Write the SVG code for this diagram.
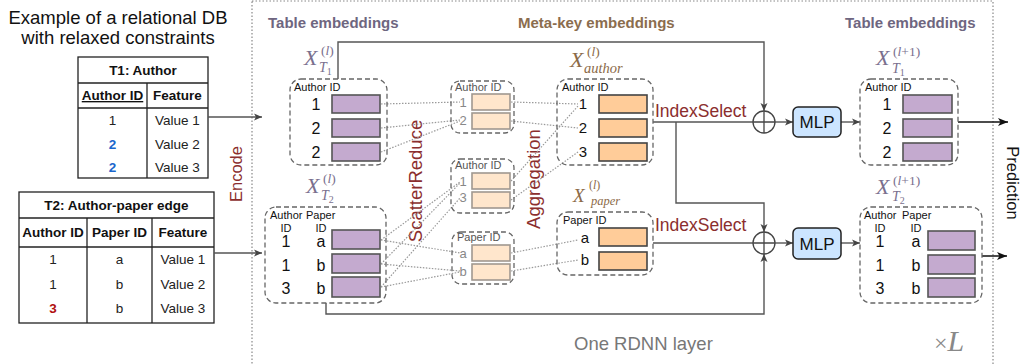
<svg xmlns="http://www.w3.org/2000/svg" width="1024" height="364" viewBox="0 0 1024 364">
  <defs>
    <marker id="ah" markerUnits="userSpaceOnUse" markerWidth="10" markerHeight="10" refX="9" refY="5" orient="auto">
      <path d="M1,1.5 L9,5 L1,8.5 L3,5 Z" fill="#444"/>
    </marker>
    <marker id="ahk" markerUnits="userSpaceOnUse" markerWidth="12" markerHeight="12" refX="11" refY="6" orient="auto">
      <path d="M1,2 L11,6 L1,10 L3.5,6 Z" fill="#111"/>
    </marker>
  </defs>
  <style>
    .sans { font-family: "Liberation Sans", Arial, sans-serif; }
    .math { font-family: "Liberation Serif", "Times New Roman", serif; font-style: italic; }
    .tbl { fill: #fff; stroke: #222; stroke-width: 1.3; }
    .tl { stroke: #222; stroke-width: 1.3; }
    .th { font-family: "Liberation Sans", Arial, sans-serif; font-size: 13.5px; font-weight: bold; fill: #111; text-anchor: middle; }
    .td { font-family: "Liberation Sans", Arial, sans-serif; font-size: 13.5px; fill: #222; text-anchor: middle; }
    .grp { fill: none; stroke: #666; stroke-width: 1.3; stroke-dasharray: 5 3; }
    .emb { fill: #C4AACF; stroke: #555; stroke-width: 1.6; }
    .key { fill: #FFCC99; stroke: #444; stroke-width: 1.6; }
    .agg { fill: #FFE6CC; stroke: #A09890; stroke-width: 1.6; }
    .cap { font-family: "Liberation Sans", Arial, sans-serif; font-size: 11px; fill: #111; }
    .capg { font-family: "Liberation Sans", Arial, sans-serif; font-size: 11px; fill: #555; }
    .num { font-family: "Liberation Sans", Arial, sans-serif; font-size: 16px; fill: #111; text-anchor: middle; }
    .numk { font-family: "Liberation Sans", Arial, sans-serif; font-size: 15px; fill: #111; text-anchor: middle; }
    .numg { font-family: "Liberation Sans", Arial, sans-serif; font-size: 13px; fill: #888; text-anchor: middle; }
    .op { font-family: "Liberation Sans", Arial, sans-serif; fill: #8B2E2E; }
    .sec { font-family: "Liberation Sans", Arial, sans-serif; font-size: 15px; font-weight: bold; }
    .wire { fill: none; stroke: #555; stroke-width: 1.4; }
    .dot { fill: none; stroke: #999; stroke-width: 1.2; stroke-dasharray: 1.5 1.5; }
    .mlp { fill: #CCE5FF; stroke: #222; stroke-width: 1.5; }
    .sum { fill: #fff; stroke: #444; stroke-width: 1.3; }
    .xt { fill: #7A6F8E; }
    .xk { fill: #8B6A48; }
  </style>

  <!-- layer frame -->
  <rect x="252" y="1" width="741" height="380" fill="none" stroke="#888" stroke-width="1.2" stroke-dasharray="1.5 2"/>

  <!-- database example -->
  <g id="db-title" class="sans" font-size="18.5" fill="#111" text-anchor="middle">
    <text x="118" y="24">Example of a relational DB</text>
    <text x="118" y="44">with relaxed constraints</text>
  </g>

  <g id="table-t1">
    <rect class="tbl" x="78" y="57" width="130" height="121"/>
    <line class="tl" x1="78" y1="83" x2="208" y2="83"/>
    <line class="tl" x1="78" y1="108" x2="208" y2="108"/>
    <line class="tl" x1="147" y1="83" x2="147" y2="178"/>
    <text class="th" x="143" y="75">T1: Author</text>
    <text class="th" x="112.5" y="100" text-decoration="underline">Author ID</text>
    <text class="th" x="177.5" y="100">Feature</text>
    <text class="td" x="112.5" y="125">1</text>
    <text class="th" x="112.5" y="149" style="fill:#1A66CC">2</text>
    <text class="th" x="112.5" y="172" style="fill:#1A66CC">2</text>
    <text class="td" x="177.5" y="125">Value 1</text>
    <text class="td" x="177.5" y="149">Value 2</text>
    <text class="td" x="177.5" y="172">Value 3</text>
  </g>

  <g id="table-t2">
    <rect class="tbl" x="19" y="192" width="195" height="131"/>
    <line class="tl" x1="19" y1="218" x2="214" y2="218"/>
    <line class="tl" x1="19" y1="247" x2="214" y2="247"/>
    <line class="tl" x1="87" y1="218" x2="87" y2="323"/>
    <line class="tl" x1="152" y1="218" x2="152" y2="323"/>
    <text class="th" x="116.5" y="210">T2: Author-paper edge</text>
    <text class="th" x="53" y="237">Author ID</text>
    <text class="th" x="119.5" y="237">Paper ID</text>
    <text class="th" x="183" y="237">Feature</text>
    <text class="td" x="53" y="264">1</text>
    <text class="td" x="53" y="289">1</text>
    <text class="th" x="53" y="313" style="fill:#B01010">3</text>
    <text class="td" x="119.5" y="264">a</text>
    <text class="td" x="119.5" y="289">b</text>
    <text class="td" x="119.5" y="313">b</text>
    <text class="td" x="183" y="264">Value 1</text>
    <text class="td" x="183" y="289">Value 2</text>
    <text class="td" x="183" y="313">Value 3</text>
  </g>

  <!-- section headings -->
  <text class="sec" x="268" y="28" fill="#6E6680">Table embeddings</text>
  <text class="sec" x="518" y="28" fill="#8B6D4E">Meta-key embeddings</text>
  <text class="sec" x="845" y="28" fill="#6E6680">Table embeddings</text>

  <!-- operation labels -->
  <text class="op" font-size="16.5" transform="translate(236,174) rotate(-90)" text-anchor="middle" dominant-baseline="central">Encode</text>
  <text class="op" font-size="18.5" transform="translate(415,181) rotate(-90)" text-anchor="middle" dominant-baseline="central">ScatterReduce</text>
  <text class="op" font-size="18.5" transform="translate(533,179) rotate(-90)" text-anchor="middle" dominant-baseline="central">Aggregation</text>
  <text class="op" font-size="17.5" x="655" y="117">IndexSelect</text>
  <text class="op" font-size="17.5" x="655" y="231">IndexSelect</text>
  <text class="sans" font-size="16.5" fill="#111" transform="translate(1013,183) rotate(90)" text-anchor="middle" dominant-baseline="central">Prediction</text>
  <text class="sans" font-size="18.5" fill="#777" x="574" y="350">One RDNN layer</text>
  <text x="934" y="351" fill="#888"><tspan font-family="'Liberation Serif', serif" font-size="24">×</tspan><tspan class="math" font-size="30" dx="0">L</tspan></text>

  <!-- connectors -->
  <g id="connectors">
    <line class="wire" x1="208" y1="117" x2="262" y2="117" marker-end="url(#ah)"/>
    <line class="wire" x1="214" y1="253" x2="262" y2="253" marker-end="url(#ah)"/>

    <g id="scatter-links">
      <line class="dot" x1="381" y1="104" x2="460" y2="102"/>
      <line class="dot" x1="381" y1="128" x2="460" y2="120"/>
      <line class="dot" x1="381" y1="152" x2="460" y2="121"/>
      <line class="dot" x1="381" y1="240" x2="460" y2="182"/>
      <line class="dot" x1="381" y1="240" x2="460" y2="253"/>
      <line class="dot" x1="381" y1="264" x2="460" y2="183"/>
      <line class="dot" x1="381" y1="264" x2="460" y2="271"/>
      <line class="dot" x1="381" y1="287" x2="460" y2="198"/>
      <line class="dot" x1="381" y1="287" x2="460" y2="272"/>
    </g>
    <g id="aggregate-links">
      <line class="dot" x1="511" y1="102" x2="578" y2="104"/>
      <line class="dot" x1="511" y1="121" x2="578" y2="128"/>
      <line class="dot" x1="511" y1="181" x2="578" y2="106"/>
      <line class="dot" x1="511" y1="200" x2="578" y2="152"/>
      <line class="dot" x1="511" y1="253" x2="578" y2="240"/>
      <line class="dot" x1="511" y1="271" x2="578" y2="260"/>
    </g>

    <path class="wire" d="M338 79 V42 H764 V111" marker-end="url(#ah)"/>
    <path class="wire" d="M326 303 V314 H764 V254" marker-end="url(#ah)"/>
    <line class="wire" x1="653" y1="122" x2="753" y2="122"/>
    <path class="wire" d="M676 122 V203 H764 V232" marker-end="url(#ah)"/>
    <line class="wire" x1="653" y1="243" x2="753" y2="243"/>
    <line class="wire" x1="775" y1="122" x2="793" y2="122" marker-end="url(#ah)"/>
    <line class="wire" x1="775" y1="243" x2="793" y2="243" marker-end="url(#ah)"/>
    <line class="wire" x1="841" y1="122" x2="860" y2="122" marker-end="url(#ah)"/>
    <line class="wire" x1="841" y1="243" x2="860" y2="243" marker-end="url(#ah)"/>
    <line x1="958" y1="122" x2="1008" y2="122" stroke="#111" stroke-width="1.5" marker-end="url(#ahk)"/>
    <line x1="982" y1="256" x2="1007" y2="256" stroke="#111" stroke-width="1.5" marker-end="url(#ahk)"/>
  </g>

  <!-- table embeddings, layer l -->
  <g id="emb-t1">
    <text class="math xt" x="304" y="65" font-size="22">X</text>
    <text class="math xt" x="321" y="55" font-size="13.5"><tspan font-style="normal">(</tspan>l<tspan font-style="normal">)</tspan></text>
    <text class="math xt" x="319" y="72" font-size="14">T<tspan font-style="normal" font-size="10" dy="3">1</tspan></text>
    <rect class="grp" x="290" y="79" width="97" height="86" rx="11"/>
    <text class="cap" x="294" y="91">Author ID</text>
    <text class="num" x="316" y="110">1</text>
    <text class="num" x="316" y="134">2</text>
    <text class="num" x="316" y="158">2</text>
    <rect class="emb" x="332" y="95" width="48" height="18"/>
    <rect class="emb" x="332" y="119" width="48" height="18"/>
    <rect class="emb" x="332" y="143" width="48" height="18"/>
  </g>

  <g id="emb-t2">
    <text class="math xt" x="306" y="193" font-size="22">X</text>
    <text class="math xt" x="323" y="183" font-size="13.5"><tspan font-style="normal">(</tspan>l<tspan font-style="normal">)</tspan></text>
    <text class="math xt" x="321" y="200" font-size="14">T<tspan font-style="normal" font-size="10" dy="3">2</tspan></text>
    <rect class="grp" x="265" y="207" width="121" height="96" rx="11"/>
    <text class="cap" x="270" y="219">Author</text>
    <text class="cap" x="306" y="219">Paper</text>
    <text class="cap" x="286" y="232" text-anchor="middle">ID</text>
    <text class="cap" x="321" y="232" text-anchor="middle">ID</text>
    <text class="num" x="286" y="247">1</text>
    <text class="num" x="321" y="247">a</text>
    <text class="num" x="286" y="271">1</text>
    <text class="num" x="321" y="271">b</text>
    <text class="num" x="286" y="294">3</text>
    <text class="num" x="321" y="294">b</text>
    <rect class="emb" x="332" y="230" width="48" height="19"/>
    <rect class="emb" x="332" y="254" width="48" height="19"/>
    <rect class="emb" x="332" y="277" width="48" height="20"/>
  </g>

  <!-- scattered intermediate embeddings -->
  <g id="scatter-author-t1">
    <rect class="grp" x="451" y="81" width="63" height="52" rx="9"/>
    <text class="capg" x="455" y="91">Author ID</text>
    <text class="numg" x="463" y="107">1</text>
    <text class="numg" x="463" y="125">2</text>
    <rect class="agg" x="472" y="94" width="38" height="16"/>
    <rect class="agg" x="472" y="113" width="38" height="16"/>
  </g>
  <g id="scatter-author-t2">
    <rect class="grp" x="451" y="159" width="63" height="54" rx="9"/>
    <text class="capg" x="455" y="169">Author ID</text>
    <text class="numg" x="463" y="186">1</text>
    <text class="numg" x="463" y="202">3</text>
    <rect class="agg" x="472" y="173" width="38" height="16"/>
    <rect class="agg" x="472" y="192" width="38" height="16"/>
  </g>
  <g id="scatter-paper-t2">
    <rect class="grp" x="452" y="232" width="62" height="52" rx="9"/>
    <text class="capg" x="457" y="241">Paper ID</text>
    <text class="numg" x="463" y="258">a</text>
    <text class="numg" x="463" y="276">b</text>
    <rect class="agg" x="472" y="245" width="38" height="16"/>
    <rect class="agg" x="472" y="264" width="38" height="16"/>
  </g>

  <!-- meta-key embeddings -->
  <g id="key-author">
    <text class="math xk" x="570" y="67" font-size="22">X</text>
    <text class="math xk" x="587" y="56" font-size="13.5"><tspan font-style="normal">(</tspan>l<tspan font-style="normal">)</tspan></text>
    <text class="math xk" x="584" y="73" font-size="14.5">author</text>
    <rect class="grp" x="557" y="79" width="96" height="86" rx="11"/>
    <text class="cap" x="562" y="91">Author ID</text>
    <text class="numk" x="583" y="109">1</text>
    <text class="numk" x="583" y="133">2</text>
    <text class="numk" x="583" y="157">3</text>
    <rect class="key" x="599" y="95" width="48" height="18"/>
    <rect class="key" x="599" y="119" width="48" height="18"/>
    <rect class="key" x="599" y="143" width="48" height="18"/>
  </g>
  <g id="key-paper">
    <text class="math xk" x="573" y="202" font-size="19">X</text>
    <text class="math xk" x="589" y="189" font-size="12"><tspan font-style="normal">(</tspan>l<tspan font-style="normal">)</tspan></text>
    <text class="math xk" x="591" y="205" font-size="12.5">paper</text>
    <rect class="grp" x="557" y="212" width="96" height="63" rx="11"/>
    <text class="cap" x="563" y="224">Paper ID</text>
    <text class="numk" x="585" y="243">a</text>
    <text class="numk" x="585" y="265">b</text>
    <rect class="key" x="599" y="228" width="48" height="18"/>
    <rect class="key" x="599" y="252" width="48" height="18"/>
  </g>

  <!-- residual sums -->
  <g id="sum-t1">
    <circle class="sum" cx="764" cy="122" r="11"/>
    <path d="M753 122 H775 M764 111 V133" stroke="#444" stroke-width="1.3"/>
  </g>
  <g id="sum-t2">
    <circle class="sum" cx="764" cy="243" r="11"/>
    <path d="M753 243 H775 M764 232 V254" stroke="#444" stroke-width="1.3"/>
  </g>

  <g id="mlp-t1">
    <rect class="mlp" x="793" y="107" width="48" height="30" rx="5"/>
    <text class="sans" x="817" y="128" font-size="17" text-anchor="middle" fill="#111">MLP</text>
  </g>
  <g id="mlp-t2">
    <rect class="mlp" x="793" y="228" width="48" height="31" rx="5"/>
    <text class="sans" x="817" y="250" font-size="17" text-anchor="middle" fill="#111">MLP</text>
  </g>

  <!-- table embeddings, layer l+1 -->
  <g id="emb-t1-next">
    <text class="math xt" x="876" y="65" font-size="22">X</text>
    <text class="math xt" x="893" y="56" font-size="13.5"><tspan font-style="normal">(</tspan>l<tspan font-style="normal">+1)</tspan></text>
    <text class="math xt" x="892" y="73" font-size="14">T<tspan font-style="normal" font-size="10" dy="3">1</tspan></text>
    <rect class="grp" x="860" y="79" width="98" height="86" rx="11"/>
    <text class="cap" x="865" y="91">Author ID</text>
    <text class="num" x="887" y="110">1</text>
    <text class="num" x="887" y="134">2</text>
    <text class="num" x="887" y="158">2</text>
    <rect class="emb" x="903" y="95" width="49" height="18"/>
    <rect class="emb" x="903" y="119" width="49" height="18"/>
    <rect class="emb" x="903" y="143" width="49" height="18"/>
  </g>
  <g id="emb-t2-next">
    <text class="math xt" x="876" y="194" font-size="22">X</text>
    <text class="math xt" x="893" y="185" font-size="13.5"><tspan font-style="normal">(</tspan>l<tspan font-style="normal">+1)</tspan></text>
    <text class="math xt" x="892" y="201" font-size="14">T<tspan font-style="normal" font-size="10" dy="3">2</tspan></text>
    <rect class="grp" x="860" y="207" width="122" height="96" rx="11"/>
    <text class="cap" x="864" y="219">Author</text>
    <text class="cap" x="902" y="219">Paper</text>
    <text class="cap" x="880" y="232" text-anchor="middle">ID</text>
    <text class="cap" x="916" y="232" text-anchor="middle">ID</text>
    <text class="num" x="880" y="247">1</text>
    <text class="num" x="916" y="247">a</text>
    <text class="num" x="880" y="271">1</text>
    <text class="num" x="916" y="271">b</text>
    <text class="num" x="880" y="294">3</text>
    <text class="num" x="916" y="294">b</text>
    <rect class="emb" x="928" y="231" width="47" height="19"/>
    <rect class="emb" x="928" y="255" width="47" height="19"/>
    <rect class="emb" x="928" y="278" width="47" height="19"/>
  </g>
</svg>
